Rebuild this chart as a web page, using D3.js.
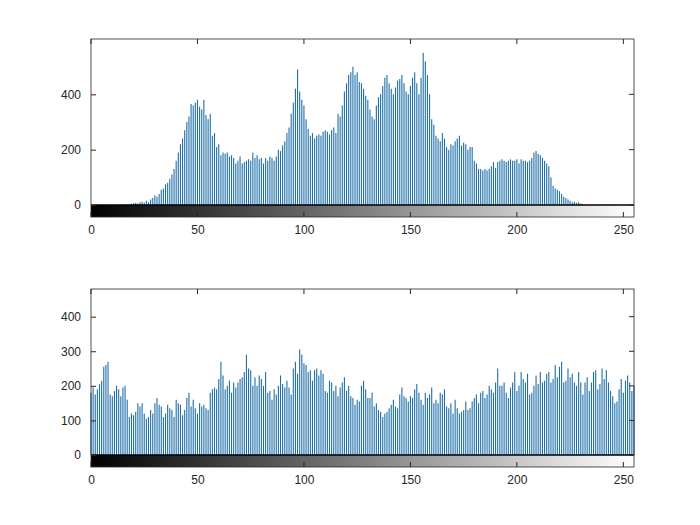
<!DOCTYPE html>
<html><head><meta charset="utf-8">
<script src="https://cdn.jsdelivr.net/npm/d3@7"></script>
<style>body{margin:0;background:#fff}text{font-family:"Liberation Sans",Arial,sans-serif;font-size:12px;fill:#262626}</style>
</head><body><svg id="c" width="700" height="525"></svg>
<script>
// histogram counts, bins 0..255
const histTop = [
0,0,0,0,0,0,0,0,0,0,0,0,0,0,0,0,
0,0,3,5,6,8,5,10,12,8,15,10,20,25,35,30,
40,55,60,75,80,95,110,130,160,190,220,240,270,300,320,365,
360,370,380,355,345,380,325,310,330,250,260,210,220,180,190,185,
190,175,180,170,150,160,175,150,155,160,165,160,190,170,180,165,
170,150,170,160,175,170,160,175,200,195,215,230,260,280,330,370,
420,490,410,380,360,310,275,250,260,240,250,255,250,265,270,265,
255,270,280,260,330,320,360,410,440,470,480,500,470,480,445,440,
420,395,380,345,320,310,360,390,400,430,460,470,440,420,400,425,
450,455,470,440,410,400,430,460,480,440,400,460,550,520,470,400,
310,290,250,240,230,260,240,210,200,220,215,230,240,250,215,225,
220,200,210,210,160,150,130,130,125,130,125,130,140,155,135,155,
160,165,160,155,160,165,160,160,165,150,165,160,160,155,160,170,
190,195,185,180,170,160,150,140,100,70,60,55,50,40,30,25,
20,15,10,12,8,10,5,3,0,0,0,0,0,0,0,0,
0,0,0,0,0,0,0,0,0,0,0,0,0,0,0,0];
const histBottom = [
180,195,175,190,205,215,255,260,270,175,170,185,200,190,170,195,
200,160,110,120,115,125,150,140,150,120,105,110,130,120,150,165,
145,140,110,120,145,135,130,110,160,150,145,115,130,165,180,140,
160,135,120,150,140,145,135,130,180,190,195,190,220,270,230,190,
200,215,180,210,195,210,220,225,240,290,250,245,200,225,200,230,
220,200,240,180,185,160,190,175,200,230,205,195,215,195,175,250,
270,235,305,290,265,260,240,245,215,245,250,230,245,235,185,180,
215,210,185,200,170,195,210,225,185,200,170,165,145,160,155,200,
215,190,165,165,180,140,150,130,125,110,120,125,135,145,160,140,
135,175,195,170,165,155,170,165,190,205,180,160,145,180,165,175,
195,150,160,150,180,175,190,140,135,150,120,160,135,120,125,130,
155,130,135,155,165,175,150,180,185,165,175,200,190,180,210,250,
200,200,210,180,165,195,210,240,185,200,240,220,210,235,175,180,
200,230,205,240,210,215,235,240,210,220,260,225,255,270,210,215,
250,225,235,210,200,240,210,175,210,225,185,210,240,245,190,205,
250,220,245,210,185,170,150,155,190,220,180,215,230,210,185,200];
const xTicks = [0, 50, 100, 150, 200, 250];
const yTicksTop = [0, 200, 400];
const yTicksBottom = [0, 100, 200, 300, 400];

const svg = d3.select("#c");
const defs = svg.append("defs");
const grad = defs.append("linearGradient").attr("id", "g");
grad.append("stop").attr("offset", "0%").attr("stop-color", "#000");
grad.append("stop").attr("offset", "100%").attr("stop-color", "#fff");

function panel(data, top, zeroY, ymax, yTicks) {
  const left = 91, right = 634, bottom = zeroY + 12;
  const x = d3.scaleLinear().domain([0, 255]).range([left, right]);
  const y = d3.scaleLinear().domain([0, ymax]).range([zeroY, top]);
  const g = svg.append("g");
  g.selectAll("line.bar").data(data).enter().append("line")
    .attr("x1", (d, i) => x(i)).attr("x2", (d, i) => x(i))
    .attr("y1", y(0)).attr("y2", d => y(d))
    .attr("stroke", "#1f6fa8").attr("stroke-width", 1.1);
  // gray-level strip
  g.append("rect").attr("x", left).attr("y", zeroY).attr("width", right - left)
    .attr("height", bottom - zeroY).attr("fill", "url(#g)");
  g.append("line").attr("x1", left).attr("x2", right).attr("y1", zeroY).attr("y2", zeroY)
    .attr("stroke", "#000").attr("stroke-width", 1.5);
  g.append("rect").attr("x", left).attr("y", top).attr("width", right - left)
    .attr("height", bottom - top).attr("fill", "none").attr("stroke", "#262626").attr("stroke-width", 0.8);
  g.append("g").attr("transform", `translate(0,${bottom})`)
    .call(d3.axisBottom(x).tickValues(xTicks).tickSize(0).tickPadding(8))
    .call(a => a.select(".domain").remove());
  xTicks.forEach(t => {
    g.append("line").attr("x1", x(t)).attr("x2", x(t)).attr("y1", top).attr("y2", top + 5).attr("stroke", "#262626");
    g.append("line").attr("x1", x(t)).attr("x2", x(t)).attr("y1", bottom).attr("y2", bottom - 5).attr("stroke", "#262626");
  });
  g.append("g").attr("transform", `translate(${left},0)`)
    .call(d3.axisLeft(y).tickValues(yTicks).tickSize(-5).tickPadding(10))
    .call(a => a.select(".domain").remove());
  yTicks.forEach(t => {
    g.append("line").attr("x1", right).attr("x2", right - 5).attr("y1", y(t)).attr("y2", y(t)).attr("stroke", "#262626");
  });
  g.selectAll(".tick line").attr("stroke", "#262626");
  g.selectAll(".tick text").style("font-size", "12px").attr("fill", "#262626");
}
panel(histTop, 39, 205, 600, yTicksTop);
panel(histBottom, 289, 455, 480, yTicksBottom);
</script></body></html>
